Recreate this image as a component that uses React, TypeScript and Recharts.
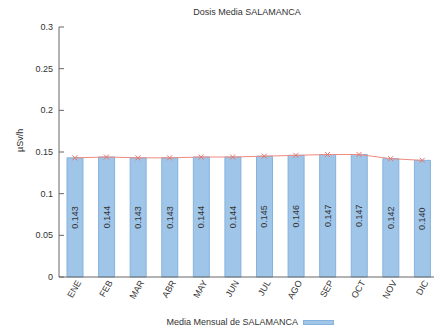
import { Bar, ComposedChart, LabelList, Line, XAxis, YAxis, Label } from "recharts"

const months = ["ENE", "FEB", "MAR", "ABR", "MAY", "JUN", "JUL", "AGO", "SEP", "OCT", "NOV", "DIC"]
const monthlyDose = [0.143, 0.144, 0.143, 0.143, 0.144, 0.144, 0.145, 0.146, 0.147, 0.147, 0.142, 0.14]
const yTicks = [0, 0.05, 0.1, 0.15, 0.2, 0.25, 0.3]

const data = months.map((m, i) => ({ month: m, dose: monthlyDose[i] }))

const FONT = "'Liberation Sans', Arial, sans-serif"
const AXIS = "#666"
const TEXT = "#333"

const LeftTick = (props: any) => {
    const { x, y, payload } = props
    return (
        <g>
            <line x1={x} y1={y} x2={x + 5} y2={y} stroke={AXIS} />
            <text x={x - 6} y={y} textAnchor="end" dominantBaseline="central" fontSize={9} fill={TEXT} fontFamily={FONT}>
                {payload.value}
            </text>
        </g>
    )
}

const RightTick = (props: any) => {
    const { x, y } = props
    return <line x1={x - 5} y1={y} x2={x} y2={y} stroke={AXIS} />
}

const TopTick = (props: any) => {
    const { x, y } = props
    return <line x1={x} y1={y} x2={x} y2={y + 5} stroke={AXIS} />
}

const MonthTick = (props: any) => {
    const { x, y, payload } = props
    const tx = x + 4
    const ty = y + 4
    return (
        <text
            x={tx}
            y={ty}
            textAnchor="end"
            dominantBaseline="central"
            fontSize={9}
            fill={TEXT}
            fontFamily={FONT}
            transform={`rotate(-60, ${tx}, ${ty})`}
        >
            {payload.value}
        </text>
    )
}

const BarValue = (props: any) => {
    const { x, y, width, height, value } = props
    const cx = x + width / 2
    const cy = y + height / 2
    return (
        <text
            x={cx}
            y={cy}
            textAnchor="middle"
            dominantBaseline="central"
            fontSize={9}
            fill={TEXT}
            fontFamily={FONT}
            transform={`rotate(-90, ${cx}, ${cy})`}
        >
            {Number(value).toFixed(3)}
        </text>
    )
}

const Cross = (props: any) => {
    const { cx, cy } = props
    return (
        <path d={`M${cx - 2.5},${cy - 2.5}L${cx + 2.5},${cy + 2.5}M${cx - 2.5},${cy + 2.5}L${cx + 2.5},${cy - 2.5}`} stroke="#e8766c" strokeWidth={1} />
    )
}

export default function App() {
    return (
        <div style={{ position: "absolute", left: 0, top: 0, width: 434, height: 335, overflow: "hidden", background: "#fff", fontFamily: FONT }}>
            <ComposedChart
                width={440}
                height={335}
                data={data}
                margin={{ top: 27, right: 2, bottom: 18, left: 0 }}
            >
                <text x={247} y={12} textAnchor="middle" dominantBaseline="central" fontSize={9} fill={TEXT} fontFamily={FONT}>
                    Dosis Media SALAMANCA
                </text>
                <XAxis dataKey="month" xAxisId="bottom" height={40} tick={<MonthTick />} tickLine={false} tickSize={0} tickMargin={0} stroke={AXIS} interval={0} />
                <XAxis dataKey="month" xAxisId="top" orientation="top" height={0} tick={<TopTick />} tickLine={false} tickSize={0} tickMargin={0} stroke={AXIS} interval={0} />
                <YAxis yAxisId="left" domain={[0, 0.3]} ticks={yTicks} width={59} tick={<LeftTick />} tickLine={false} tickSize={0} tickMargin={0} stroke={AXIS} interval={0}>
                    <Label value="µSv/h" angle={-90} position="insideLeft" offset={20} style={{ fontSize: 9, fill: TEXT, fontFamily: FONT }} />
                </YAxis>
                <YAxis yAxisId="right" orientation="right" domain={[0, 0.3]} ticks={yTicks} width={0} tick={<RightTick />} tickLine={false} tickSize={0} tickMargin={0} stroke={AXIS} interval={0} />
                <Bar
                    dataKey="dose"
                    xAxisId="bottom"
                    yAxisId="left"
                    barSize={16}
                    fill="#9fc5e8"
                    stroke="#86b2dc"
                    strokeWidth={1}
                    isAnimationActive={false}
                >
                    <LabelList dataKey="dose" content={<BarValue />} />
                </Bar>
                <Line
                    dataKey="dose"
                    xAxisId="bottom"
                    yAxisId="left"
                    stroke="#ef8a80"
                    strokeWidth={1}
                    dot={<Cross />}
                    activeDot={false}
                    isAnimationActive={false}
                />
            </ComposedChart>
            <div style={{ position: "absolute", right: 136, top: 316, fontSize: 9, color: TEXT, lineHeight: "12px", whiteSpace: "nowrap" }}>
                Media Mensual de SALAMANCA
            </div>
            <div style={{ position: "absolute", left: 303, top: 320, width: 31, height: 5, background: "#9fc5e8", border: "1px solid #86b2dc", boxSizing: "border-box" }} />
        </div>
    )
}
